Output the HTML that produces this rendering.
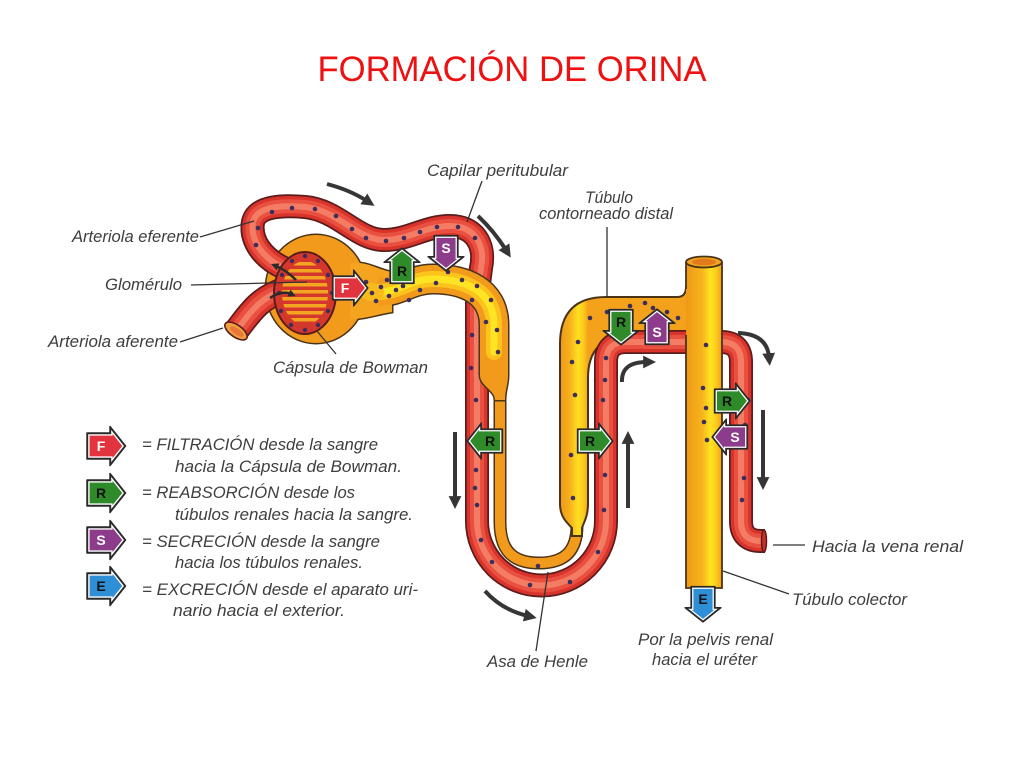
<!DOCTYPE html>
<html><head><meta charset="utf-8">
<style>
html,body{margin:0;padding:0;background:#fff;}
svg{display:block;}
.lb{font-family:"Liberation Sans",sans-serif;font-style:italic;font-size:17px;fill:#3e3e3e;}
.bl{font-family:"Liberation Sans",sans-serif;font-weight:bold;font-size:14px;text-anchor:middle;}
</style></head><body>
<svg width="1024" height="768" viewBox="0 0 1024 768" xmlns="http://www.w3.org/2000/svg">
<defs>
 <marker id="ah" viewBox="0 0 10 10" refX="3" refY="5" markerWidth="3.2" markerHeight="3.2" orient="auto"><path d="M0,0 L10,5 L0,10 z" fill="#363636"/></marker>
 <marker id="ahs" viewBox="0 0 10 10" refX="3" refY="5" markerWidth="3" markerHeight="3" orient="auto"><path d="M0,0 L10,5 L0,10 z" fill="#2a2a2a"/></marker>
 <linearGradient id="gv" gradientUnits="userSpaceOnUse" x1="560" y1="0" x2="588" y2="0">
  <stop offset="0" stop-color="#f09818"/><stop offset="0.35" stop-color="#f6b01c"/><stop offset="0.65" stop-color="#ffe020"/><stop offset="0.85" stop-color="#fbc81c"/><stop offset="1" stop-color="#f4a21c"/>
 </linearGradient>
 <linearGradient id="gc" gradientUnits="userSpaceOnUse" x1="686" y1="0" x2="722" y2="0">
  <stop offset="0" stop-color="#f09818"/><stop offset="0.45" stop-color="#f7b41c"/><stop offset="0.68" stop-color="#ffe420"/><stop offset="0.85" stop-color="#fcc81c"/><stop offset="1" stop-color="#f29e1a"/>
 </linearGradient>
 <path id="rp" d="M 284,268 C 262,258 250,240 253,222 C 257,206 282,205 305,207 C 338,210 357,240 384,240 C 409,240 425,226 450,226 C 474,226 486,244 481,268 L 477,300 L 477,521 A 64.5 64.5 0 0 0 606,521 L 606,362 Q 606,342 626,342 L 721,342 Q 741,342 741,362 L 741,521 Q 741,541 761,541 L 765,541"/>
 <path id="re" d="M 284,268 C 262,258 250,240 253,222"/>
 <path id="ra" d="M 236,331 C 248,316 258,298 284,290"/>
 <path id="pct" d="M 378,292 C 400,292 410,279 433,279 C 463,279 494,290 494,325 L 494,366"/>
 <path id="pcth" d="M 378,292 C 400,292 410,279 433,279 C 463,279 494,290 494,325 L 494,352"/>
 <path id="thin" d="M 500,388 L 500,522 C 500,552 514,563 539,563 C 564,563 577,552 577,525 L 577,515"/>
 <path id="neck" d="M 350,263 C 368,261 378,270 392,272 L 392,312 C 378,314 366,319 350,319 Z"/>
 <path id="tap" d="M 480,360 L 508,360 L 508,375 C 508,385 505,390 505,400 L 495,400 C 495,390 480,386 480,375 Z"/>
 <clipPath id="gcl"><ellipse cx="305" cy="293" rx="23" ry="32"/></clipPath>
 <g id="bd">
  <polygon points="-19,-13 4,-13 4,-19.5 19.5,0 4,19.5 4,13 -19,13" fill="#2a2a2a" stroke="#2a2a2a" stroke-width="1.5" stroke-linejoin="round"/>
  <polygon points="-17.8,-11.8 5.2,-11.8 5.2,-16.1 18,0 5.2,16.1 5.2,11.8 -17.8,11.8" fill="#fff"/>
  <polygon points="-16.4,-10.4 6.6,-10.4 6.6,-12.1 16.2,0 6.6,12.1 6.6,10.4 -16.4,10.4"/>
 </g>
</defs>

<!-- Title -->
<text x="512" y="81" text-anchor="middle" font-family="'Liberation Sans',sans-serif" font-size="35" fill="#ee1111" textLength="389" lengthAdjust="spacingAndGlyphs">FORMACIÓN DE ORINA</text>

<!-- Thin limb -->
<use href="#thin" fill="none" stroke="#4a3418" stroke-width="13"/>
<use href="#thin" fill="none" stroke="#f29a1c" stroke-width="10"/>

<!-- DCT / thick ascending -->
<path d="M 572,536 L 572,528 C 566,522 560,516 560,504 L 560,344 Q 560,297 606,297 L 677,297 Q 686,297 686,287 L 694,287 L 694,336 L 630,336 Q 588,336 588,378 L 588,504 C 588,516 584,522 582,528 L 582,536 Z" fill="url(#gv)" stroke="#4a3418" stroke-width="2"/>

<!-- Red capillary -->
<g fill="none" stroke-linejoin="round">
 <use href="#rp" stroke="#5c1c1c" stroke-width="24"/>
 <use href="#rp" stroke="#d8342c" stroke-width="20.5"/>
 <use href="#rp" stroke="#e95040" stroke-width="14"/>
 <use href="#rp" stroke="#f47c64" stroke-width="6"/>
</g>
<ellipse cx="764" cy="541" rx="2.5" ry="11" fill="#c83028" stroke="#5c1c1c" stroke-width="1.5"/>

<!-- Collecting duct -->
<rect x="686" y="262" width="36" height="326" fill="url(#gc)"/>
<path d="M 686,262 L 686,289 M 686,335 L 686,588 L 722,588 L 722,262" fill="none" stroke="#4a3418" stroke-width="1.8"/>
<ellipse cx="704" cy="262" rx="18" ry="5.5" fill="#f2a21e" stroke="#4a3418" stroke-width="1.8"/>
<ellipse cx="704" cy="262" rx="12" ry="3.2" fill="#e07a1a"/>

<!-- Bowman capsule + PCT: outline layer -->
<ellipse cx="316" cy="289" rx="51.5" ry="55.5" fill="#4a3418"/>
<use href="#neck" fill="#4a3418" stroke="#4a3418" stroke-width="3"/>
<use href="#pct" fill="none" stroke="#4a3418" stroke-width="31"/>
<use href="#tap" fill="#4a3418" stroke="#4a3418" stroke-width="3"/>
<!-- fill layer -->
<ellipse cx="316" cy="289" rx="50" ry="54" fill="#f29a1c"/>
<use href="#neck" fill="#f4a41e"/>
<use href="#pct" fill="none" stroke="#f29a1c" stroke-width="28"/>
<use href="#tap" fill="#f29a1c"/>
<use href="#pcth" fill="none" stroke="#fbc41c" stroke-width="16" stroke-linecap="round"/>
<use href="#pcth" fill="none" stroke="#ffe424" stroke-width="7" stroke-linecap="round"/>
<ellipse cx="372" cy="292" rx="12" ry="9" fill="#f8bb1e"/>

<!-- efferent start redraw -->
<g fill="none">
 <use href="#re" stroke="#5c1c1c" stroke-width="24"/>
 <use href="#re" stroke="#d8342c" stroke-width="20.5"/>
 <use href="#re" stroke="#e95040" stroke-width="14"/>
 <use href="#re" stroke="#f47c64" stroke-width="6"/>
</g>
<!-- afferent -->
<g fill="none">
 <use href="#ra" stroke="#5c1c1c" stroke-width="26"/>
 <use href="#ra" stroke="#d8342c" stroke-width="22.5"/>
 <use href="#ra" stroke="#e95040" stroke-width="15"/>
 <use href="#ra" stroke="#f47c64" stroke-width="6"/>
</g>
<g transform="rotate(35 236 331)">
 <ellipse cx="236" cy="331" rx="13" ry="6" fill="#f0a040" stroke="#5c1c1c" stroke-width="1.6"/>
 <ellipse cx="237" cy="331" rx="8" ry="3.2" fill="#e8783a"/>
</g>

<!-- Glomerulus -->
<ellipse cx="305" cy="293" rx="32" ry="42" fill="#5a1c1c"/>
<ellipse cx="305" cy="293" rx="30" ry="40" fill="#d4382c"/>
<g clip-path="url(#gcl)" fill="#f3a522">
 <rect x="275" y="262" width="60" height="3.5"/><rect x="275" y="269" width="60" height="3.5"/>
 <rect x="275" y="276" width="60" height="3.5"/><rect x="275" y="283" width="60" height="3.5"/>
 <rect x="275" y="290" width="60" height="3.5"/><rect x="275" y="297" width="60" height="3.5"/>
 <rect x="275" y="304" width="60" height="3.5"/><rect x="275" y="311" width="60" height="3.5"/>
 <rect x="275" y="318" width="60" height="3.5"/>
</g>
<g fill="#3c2d5c">
 <circle cx="332" cy="293" r="2.2"/><circle cx="328" cy="311" r="2.2"/><circle cx="318" cy="325" r="2.2"/>
 <circle cx="305" cy="330" r="2.2"/><circle cx="291" cy="325" r="2.2"/><circle cx="281" cy="311" r="2.2"/>
 <circle cx="279" cy="293" r="2.2"/><circle cx="282" cy="275" r="2.2"/><circle cx="292" cy="261" r="2.2"/>
 <circle cx="305" cy="256" r="2.2"/><circle cx="318" cy="261" r="2.2"/><circle cx="328" cy="275" r="2.2"/>
</g>
<g fill="none" stroke="#2a2a2a" stroke-width="2.5" marker-end="url(#ahs)">
 <path d="M296,280 Q286,270 276,266"/>
 <path d="M270,298 Q282,290 291,294"/>
</g>

<!-- Dots -->
<g fill="#3c2d5c">
 <circle cx="256" cy="245" r="2.3"/><circle cx="258" cy="228" r="2.3"/><circle cx="272" cy="212" r="2.3"/>
 <circle cx="292" cy="208" r="2.3"/><circle cx="315" cy="209" r="2.3"/><circle cx="336" cy="216" r="2.3"/>
 <circle cx="352" cy="229" r="2.3"/><circle cx="366" cy="238" r="2.3"/><circle cx="386" cy="241" r="2.3"/>
 <circle cx="404" cy="238" r="2.3"/><circle cx="420" cy="232" r="2.3"/><circle cx="437" cy="227" r="2.3"/>
 <circle cx="458" cy="227" r="2.3"/><circle cx="475" cy="238" r="2.3"/><circle cx="472" cy="300" r="2.3"/>
 <circle cx="472" cy="335" r="2.3"/><circle cx="471" cy="368" r="2.3"/><circle cx="476" cy="400" r="2.3"/>
 <circle cx="476" cy="470" r="2.3"/><circle cx="475" cy="488" r="2.3"/><circle cx="477" cy="505" r="2.3"/>
 <circle cx="481" cy="540" r="2.3"/><circle cx="492" cy="562" r="2.3"/><circle cx="530" cy="585" r="2.3"/>
 <circle cx="570" cy="582" r="2.3"/><circle cx="598" cy="552" r="2.3"/><circle cx="604" cy="510" r="2.3"/>
 <circle cx="605" cy="475" r="2.3"/><circle cx="603" cy="400" r="2.3"/><circle cx="605" cy="380" r="2.3"/>
 <circle cx="606" cy="358" r="2.3"/><circle cx="748" cy="400" r="2.3"/><circle cx="745" cy="425" r="2.3"/>
 <circle cx="744" cy="478" r="2.3"/><circle cx="742" cy="500" r="2.3"/>
 <circle cx="366" cy="282" r="2.3"/><circle cx="372" cy="293" r="2.3"/><circle cx="376" cy="301" r="2.3"/>
 <circle cx="381" cy="287" r="2.3"/><circle cx="387" cy="280" r="2.3"/><circle cx="389" cy="296" r="2.3"/>
 <circle cx="396" cy="290" r="2.3"/><circle cx="403" cy="286" r="2.3"/><circle cx="409" cy="300" r="2.3"/>
 <circle cx="420" cy="290" r="2.3"/><circle cx="436" cy="283" r="2.3"/><circle cx="448" cy="272" r="2.3"/>
 <circle cx="462" cy="280" r="2.3"/><circle cx="477" cy="286" r="2.3"/><circle cx="491" cy="300" r="2.3"/>
 <circle cx="497" cy="330" r="2.3"/><circle cx="498" cy="352" r="2.3"/><circle cx="486" cy="322" r="2.3"/>
 <circle cx="538" cy="566" r="2.3"/><circle cx="572" cy="362" r="2.3"/><circle cx="575" cy="395" r="2.3"/>
 <circle cx="571" cy="455" r="2.3"/><circle cx="573" cy="498" r="2.3"/>
 <circle cx="590" cy="318" r="2.3"/><circle cx="607" cy="312" r="2.3"/><circle cx="630" cy="306" r="2.3"/>
 <circle cx="645" cy="303" r="2.3"/><circle cx="653" cy="308" r="2.3"/><circle cx="667" cy="312" r="2.3"/>
 <circle cx="678" cy="318" r="2.3"/><circle cx="578" cy="342" r="2.3"/>
 <circle cx="706" cy="345" r="2.3"/><circle cx="703" cy="388" r="2.3"/><circle cx="706" cy="408" r="2.3"/>
 <circle cx="704" cy="422" r="2.3"/><circle cx="707" cy="440" r="2.3"/>
</g>

<!-- Diagram badges -->
<use href="#bd" fill="#e2343e" transform="translate(350,288) scale(0.92)"/>
<text class="bl" x="345" y="293" fill="#fff">F</text>
<use href="#bd" fill="#2f8a2a" transform="translate(402,266) rotate(-90) scale(0.92)"/>
<text class="bl" x="402" y="276" fill="#111">R</text>
<use href="#bd" fill="#8c3c8a" transform="translate(446,253) rotate(90) scale(0.92)"/>
<text class="bl" x="446" y="253" fill="#fff">S</text>
<use href="#bd" fill="#2f8a2a" transform="translate(485,441) rotate(180) scale(0.92)"/>
<text class="bl" x="490" y="446" fill="#111">R</text>
<use href="#bd" fill="#2f8a2a" transform="translate(595,441) scale(0.92)"/>
<text class="bl" x="590" y="446" fill="#111">R</text>
<use href="#bd" fill="#2f8a2a" transform="translate(621,327) rotate(90) scale(0.92)"/>
<text class="bl" x="621" y="327" fill="#111">R</text>
<use href="#bd" fill="#8c3c8a" transform="translate(657,327) rotate(-90) scale(0.92)"/>
<text class="bl" x="657" y="337" fill="#fff">S</text>
<use href="#bd" fill="#2f8a2a" transform="translate(732,401) scale(0.92)"/>
<text class="bl" x="727" y="406" fill="#111">R</text>
<use href="#bd" fill="#8c3c8a" transform="translate(730,437) rotate(180) scale(0.92)"/>
<text class="bl" x="735" y="442" fill="#fff">S</text>
<use href="#bd" fill="#2f8fd6" transform="translate(703,604) rotate(90) scale(0.92)"/>
<text class="bl" x="703" y="604" fill="#111">E</text>

<!-- Flow arrows -->
<g fill="none" stroke="#363636" stroke-width="4" marker-end="url(#ah)">
 <path d="M327,184 Q350,190 367,201"/>
 <path d="M478,216 Q494,231 506,250"/>
 <path d="M455,432 L455,500"/>
 <path d="M628,508 L628,440"/>
 <path d="M485,591 Q502,610 528,616"/>
 <path d="M622,382 Q621,362 647,362"/>
 <path d="M738,333 Q767,334 769,357"/>
 <path d="M763,410 L763,481"/>
</g>

<!-- Leader lines -->
<g stroke="#333" stroke-width="1.3" fill="none">
 <path d="M200,237 L254,221"/>
 <path d="M191,285 L307,282"/>
 <path d="M180,342 L223,328"/>
 <path d="M317,331 L336,354"/>
 <path d="M482,181 L467,222"/>
 <path d="M607,227 L607,297"/>
 <path d="M548,572 L536,651"/>
 <path d="M773,545 L805,545"/>
 <path d="M723,571 L789,594"/>
</g>

<!-- Labels -->
<g class="lb">
 <text x="427" y="176" textLength="141" lengthAdjust="spacingAndGlyphs">Capilar peritubular</text>
 <text x="585" y="203" textLength="48" lengthAdjust="spacingAndGlyphs">Túbulo</text>
 <text x="539" y="219" textLength="134" lengthAdjust="spacingAndGlyphs">contorneado distal</text>
 <text x="72" y="242" textLength="127" lengthAdjust="spacingAndGlyphs">Arteriola eferente</text>
 <text x="105" y="290" textLength="77" lengthAdjust="spacingAndGlyphs">Glomérulo</text>
 <text x="48" y="347" textLength="130" lengthAdjust="spacingAndGlyphs">Arteriola aferente</text>
 <text x="273" y="373" textLength="155" lengthAdjust="spacingAndGlyphs">Cápsula de Bowman</text>
 <text x="812" y="552" textLength="151" lengthAdjust="spacingAndGlyphs">Hacia la vena renal</text>
 <text x="792" y="605" textLength="115" lengthAdjust="spacingAndGlyphs">Túbulo colector</text>
 <text x="638" y="645" textLength="135" lengthAdjust="spacingAndGlyphs">Por la pelvis renal</text>
 <text x="652" y="665" textLength="105" lengthAdjust="spacingAndGlyphs">hacia el uréter</text>
 <text x="487" y="667" textLength="101" lengthAdjust="spacingAndGlyphs">Asa de Henle</text>
</g>

<!-- Legend -->
<use href="#bd" fill="#e2343e" transform="translate(106,446)"/>
<text class="bl" x="101" y="451" fill="#fff" font-size="15">F</text>
<use href="#bd" fill="#2f8a2a" transform="translate(106,493)"/>
<text class="bl" x="101" y="498" fill="#111" font-size="15">R</text>
<use href="#bd" fill="#8c3c8a" transform="translate(106,540)"/>
<text class="bl" x="101" y="545" fill="#fff" font-size="15">S</text>
<use href="#bd" fill="#2f8fd6" transform="translate(106,586)"/>
<text class="bl" x="101" y="591" fill="#111" font-size="15">E</text>
<g class="lb">
 <text x="142" y="450" textLength="236" lengthAdjust="spacingAndGlyphs">= FILTRACIÓN desde la sangre</text>
 <text x="175" y="472" textLength="227" lengthAdjust="spacingAndGlyphs">hacia la Cápsula de Bowman.</text>
 <text x="142" y="498" textLength="213" lengthAdjust="spacingAndGlyphs">= REABSORCIÓN desde los</text>
 <text x="175" y="520" textLength="238" lengthAdjust="spacingAndGlyphs">túbulos renales hacia la sangre.</text>
 <text x="142" y="547" textLength="238" lengthAdjust="spacingAndGlyphs">= SECRECIÓN desde la sangre</text>
 <text x="175" y="568" textLength="188" lengthAdjust="spacingAndGlyphs">hacia los túbulos renales.</text>
 <text x="142" y="595" textLength="276" lengthAdjust="spacingAndGlyphs">= EXCRECIÓN desde el aparato uri-</text>
 <text x="173" y="616" textLength="172" lengthAdjust="spacingAndGlyphs">nario hacia el exterior.</text>
</g>
</svg>
</body></html>
